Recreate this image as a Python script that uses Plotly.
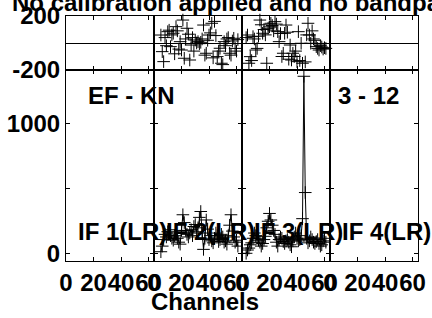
import plotly.graph_objects as go

# ---------------- data ----------------
title_text = "No calibration applied and no bandpass applied"
baseline_label = "EF - KN"
time_label = "3 - 12"
if_labels = ["IF 1(LR)", "IF 2(LR)", "IF 3(LR)", "IF 4(LR)"]
x_tick_vals = [0, 20, 40, 60]
x_tick_text = ["0", "20", "40", "60"]
phase_tick_vals = [-200, 200]
phase_tick_text = ["-200", "200"]
amp_tick_vals = [0, 500, 1000]
amp_tick_text = ["0", "", "1000"]

chan_if2 = list(range(5, 62))
amp_if2 = [17, 60, 110, 150, 130, 170, 185, 140, 120, 105, 140, 160, 120, 90, 75,
           180, 300, 240, 180, 150, 130, 160, 185, 140, 210, 225, 170, 200, 280, 325,
           160, 35, 120, 260, 190, 110, 140, 100, 85, 120, 160, 140, 95, 110, 150,
           130, 90, 100, 75, 140, 220, 300, 175, 130, 90, 105, 60]
phase_if2 = [59, -64, -138, 40, -20, 84, 95, -27, 60, 72, -80, 121, 90, -45, 10,
             -52, 170, -113, 30, 109, 65, -126, -15, 40, -60, 22, 0, 10, -5, 5,
             30, 133, -90, -76, 20, 59, 75, 146, -110, 160, 55, -101, -60, -39, -150,
             -160, 10, -20, 30, 40, -76, -90, 15, 35, -40, -60, 25]

chan_if3 = list(range(3, 62))
amp_if3 = [5, 30, 45, 70, 85, 120, 160, 140, 120, 105, 90, 60, 80, 110, 135,
           200, 250, 310, 260, 220, 180, 150, 90, 60, 110, 130, 120, 95, 80, 100,
           110, 90, 70, 55, 100, 130, 160, 120, 100, 110, 140, 270, 1360, 470, 120,
           85, 100, 130, 110, 90, 80, 95, 110, 80, 60, 70, 100, 120, 90]
phase_if3 = [40, 59, -150, -101, -130, 47, 30, -52, -40, 50, 170, 135, 72, 100, 60,
             -150, 109, 120, 146, 130, 90, 158, 140, 84, 10, 70, -100, -76, 72, 133,
             80, -120, -15, -126, -76, -100, -60, -138, 84, -130, -2, -150, -225, -140, 60,
             146, 59, -2, 90, 30, 20, -27, -40, -52, -20, -30, -45, -35, -40]

# ---------------- layout geometry ----------------
W, H = 432, 318
L, R, T, B = 66, 14, 16, 57
plot_w = W - L - R
plot_h = H - T - B
split = (261 - 70) / plot_h  # boundary between amplitude and phase panels

FONT = "Liberation Sans"
FS = 24
tick_font = dict(family=FONT, size=FS, color="black", weight="bold")

fig = go.Figure()

marker = dict(symbol="cross-thin", size=9, color="black", line=dict(color="black", width=1))

# empty traces so that every subplot frame is drawn
for i in (1, 4, 5, 8):
    fig.add_trace(go.Scatter(x=[None], y=[None], mode="markers",
                             xaxis=f"x{i}", yaxis=f"y{i}", showlegend=False, hoverinfo="skip"))

# phase (top panel) -> IF2 = subplot 2, IF3 = subplot 3
fig.add_trace(go.Scatter(x=chan_if2, y=phase_if2, mode="markers", marker=marker,
                         xaxis="x2", yaxis="y2", cliponaxis=False, showlegend=False))
fig.add_trace(go.Scatter(x=chan_if3, y=phase_if3, mode="markers", marker=marker,
                         xaxis="x3", yaxis="y3", cliponaxis=False, showlegend=False))
# amplitude (bottom panel) -> IF2 = subplot 6, IF3 = subplot 7
fig.add_trace(go.Scatter(x=chan_if2, y=amp_if2, mode="lines+markers", marker=marker,
                         line=dict(color="black", width=1),
                         xaxis="x6", yaxis="y6", showlegend=False))
fig.add_trace(go.Scatter(x=chan_if3, y=amp_if3, mode="lines+markers", marker=marker,
                         line=dict(color="black", width=1),
                         xaxis="x7", yaxis="y7", showlegend=False))

layout = dict(
    width=W, height=H,
    margin=dict(l=L, r=R, t=T, b=B, autoexpand=False),
    paper_bgcolor="white", plot_bgcolor="white",
    showlegend=False,
)

for i in range(1, 9):
    col = (i - 1) % 4
    top = i <= 4
    xd = [col / 4, (col + 1) / 4]
    yd = [split, 1] if top else [0, split]
    xa = dict(domain=xd, range=[0, 64], anchor=f"y{i}",
              tickvals=x_tick_vals, ticktext=x_tick_text,
              ticks="inside", ticklen=4, tickcolor="black",
              showline=True, linecolor="black", linewidth=1, mirror="ticks",
              showgrid=False, zeroline=False, automargin=False,
              showticklabels=not top, tickfont=tick_font, tickangle=0)
    if top:
        ya = dict(domain=yd, range=[-200, 200], anchor=f"x{i}",
                  tickvals=phase_tick_vals, ticktext=phase_tick_text,
                  zeroline=True, zerolinecolor="black", zerolinewidth=1)
    else:
        ya = dict(domain=yd, range=[-54, 1408], anchor=f"x{i}",
                  tickvals=amp_tick_vals, ticktext=amp_tick_text,
                  zeroline=False)
    ya.update(ticks="inside", ticklen=4, tickcolor="black",
              showline=True, linecolor="black", linewidth=1, mirror="ticks",
              showgrid=False, showticklabels=(col == 0), tickfont=tick_font,
              automargin=False)
    key = "" if i == 1 else str(i)
    layout["xaxis" + key] = xa
    layout["yaxis" + key] = ya

fig.update_layout(**layout)


def px_x(px):
    return (px - L) / plot_w


def px_y(py):
    return (T + plot_h - py) / plot_h


ann_font = dict(family=FONT, size=FS, color="black", weight="bold")
anns = [
    dict(text=title_text, x=px_x(10), y=px_y(2.5), xanchor="left", yanchor="middle"),
    dict(text=baseline_label, x=px_x(131), y=px_y(95), xanchor="center", yanchor="middle"),
    dict(text=time_label, x=px_x(368), y=px_y(95), xanchor="center", yanchor="middle"),
    dict(text="Channels", x=px_x(205), y=px_y(301), xanchor="center", yanchor="middle"),
]
for k, lab in enumerate(if_labels):
    anns.append(dict(text=lab, x=px_x(66 + 88 * k + 44 + 12), y=px_y(231),
                     xanchor="center", yanchor="middle"))
for a in anns:
    a.update(xref="paper", yref="paper", showarrow=False, font=ann_font)
fig.update_layout(annotations=anns)

fig.write_html("out.html", config={"displayModeBar": False},
               post_script="document.body.style.margin='0';")
